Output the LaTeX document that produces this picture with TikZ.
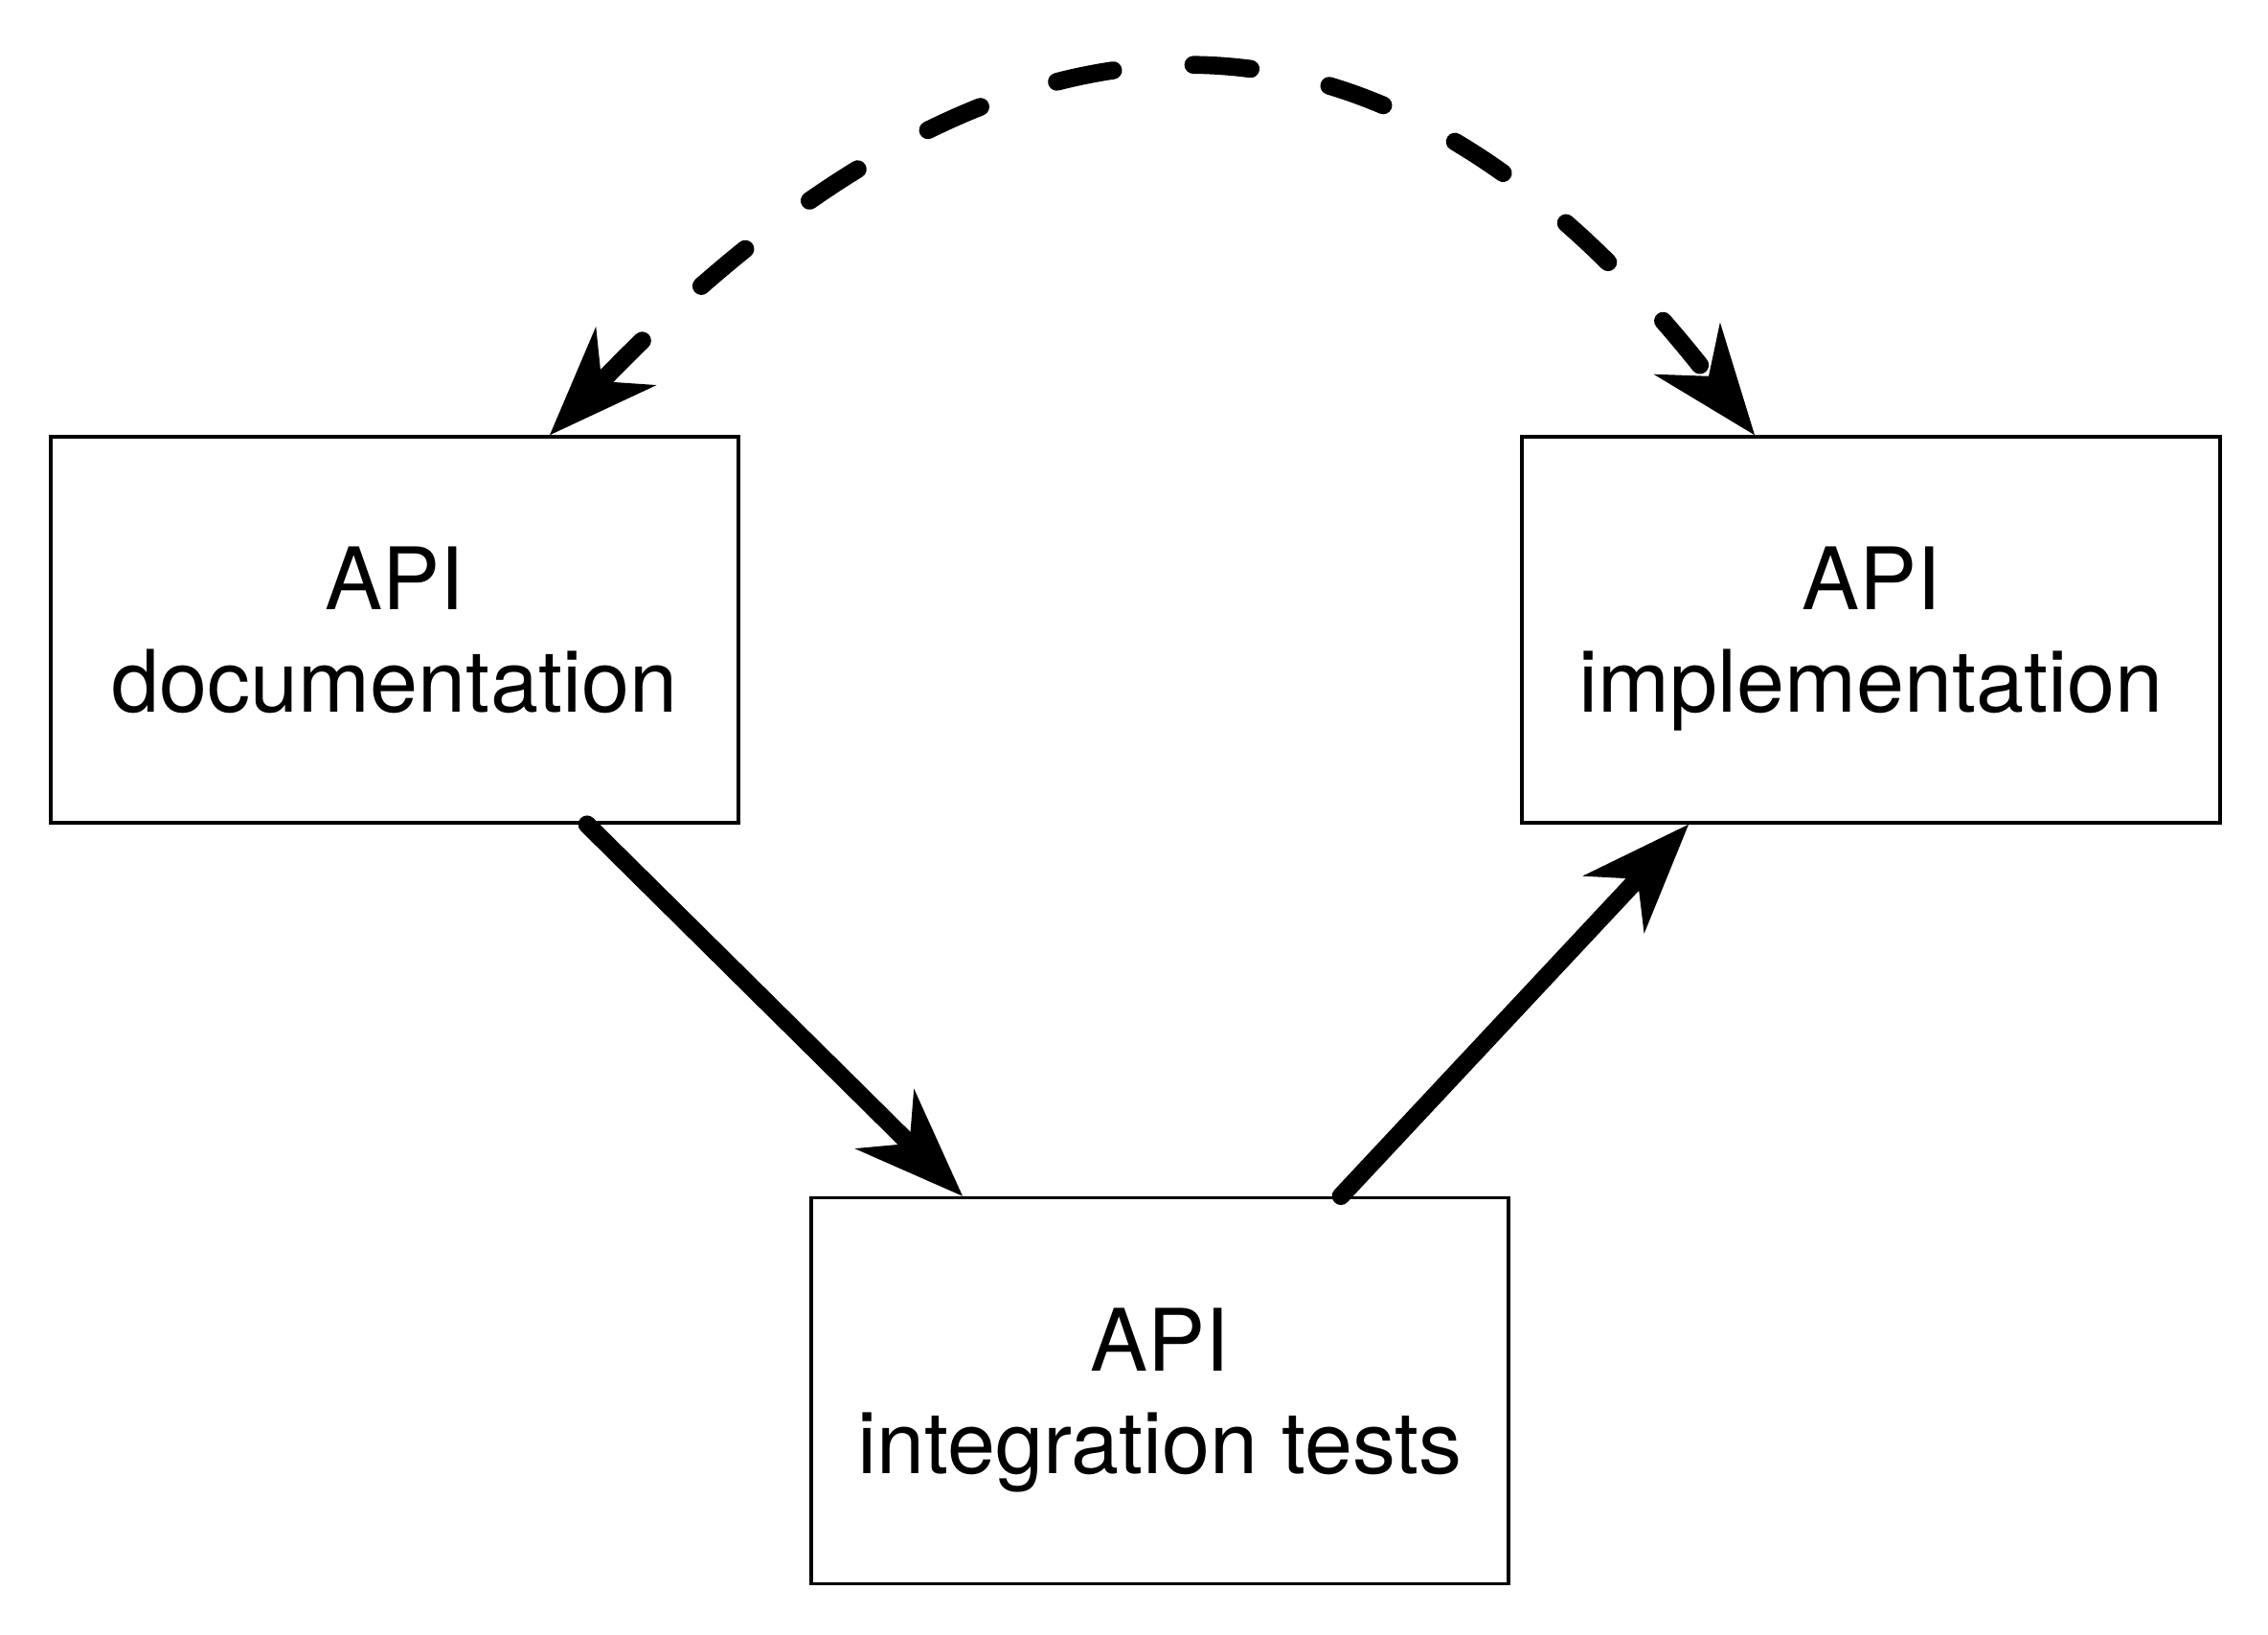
\documentclass[tikz,border=0pt]{standalone}
\usepackage{fontspec}
\setmainfont{TeX Gyre Heros}
\usetikzlibrary{arrows.meta,calc}

\begin{document}
\begin{tikzpicture}[
		>={Stealth[length=1.15cm,width=0.88cm,inset=0.37cm,line width=0pt]},
		apibox/.style={draw,line width=1pt,minimum height=4.03cm,inner sep=0pt,align=center,text depth=0pt,font=\fontsize{25.6}{30.5}\selectfont},
		flow/.style={line width=5.3pt,line cap=round,->}]
	\useasboundingbox (0,0) rectangle (23.68,17.06);
	% boxes
	\node[apibox,minimum width=7.18cm] (doc) at (4.12,10.485) {API\\documentation};
	\node[apibox,minimum width=7.29cm] (impl) at (19.535,10.485) {API\\implementation};
	\node[apibox,minimum width=7.28cm] (tests) at (12.11,2.54) {API\\integration tests};
	% arrows
	\draw[flow] ($(doc.south)+(2.01,0)$) -- ($(tests.north)+(-2.06,0)$);
	\draw[flow] ($(tests.north)+(1.89,0)$) -- ($(impl.south)+(-1.905,0)$);
	\draw[flow,<->,dash pattern=on 0.6cm off 0.84cm] ($(doc.north)+(1.62,0)$) to[out=46,in=128,looseness=1.34] ($(impl.north)+(-1.215,0)$);
\end{tikzpicture}
\end{document}
